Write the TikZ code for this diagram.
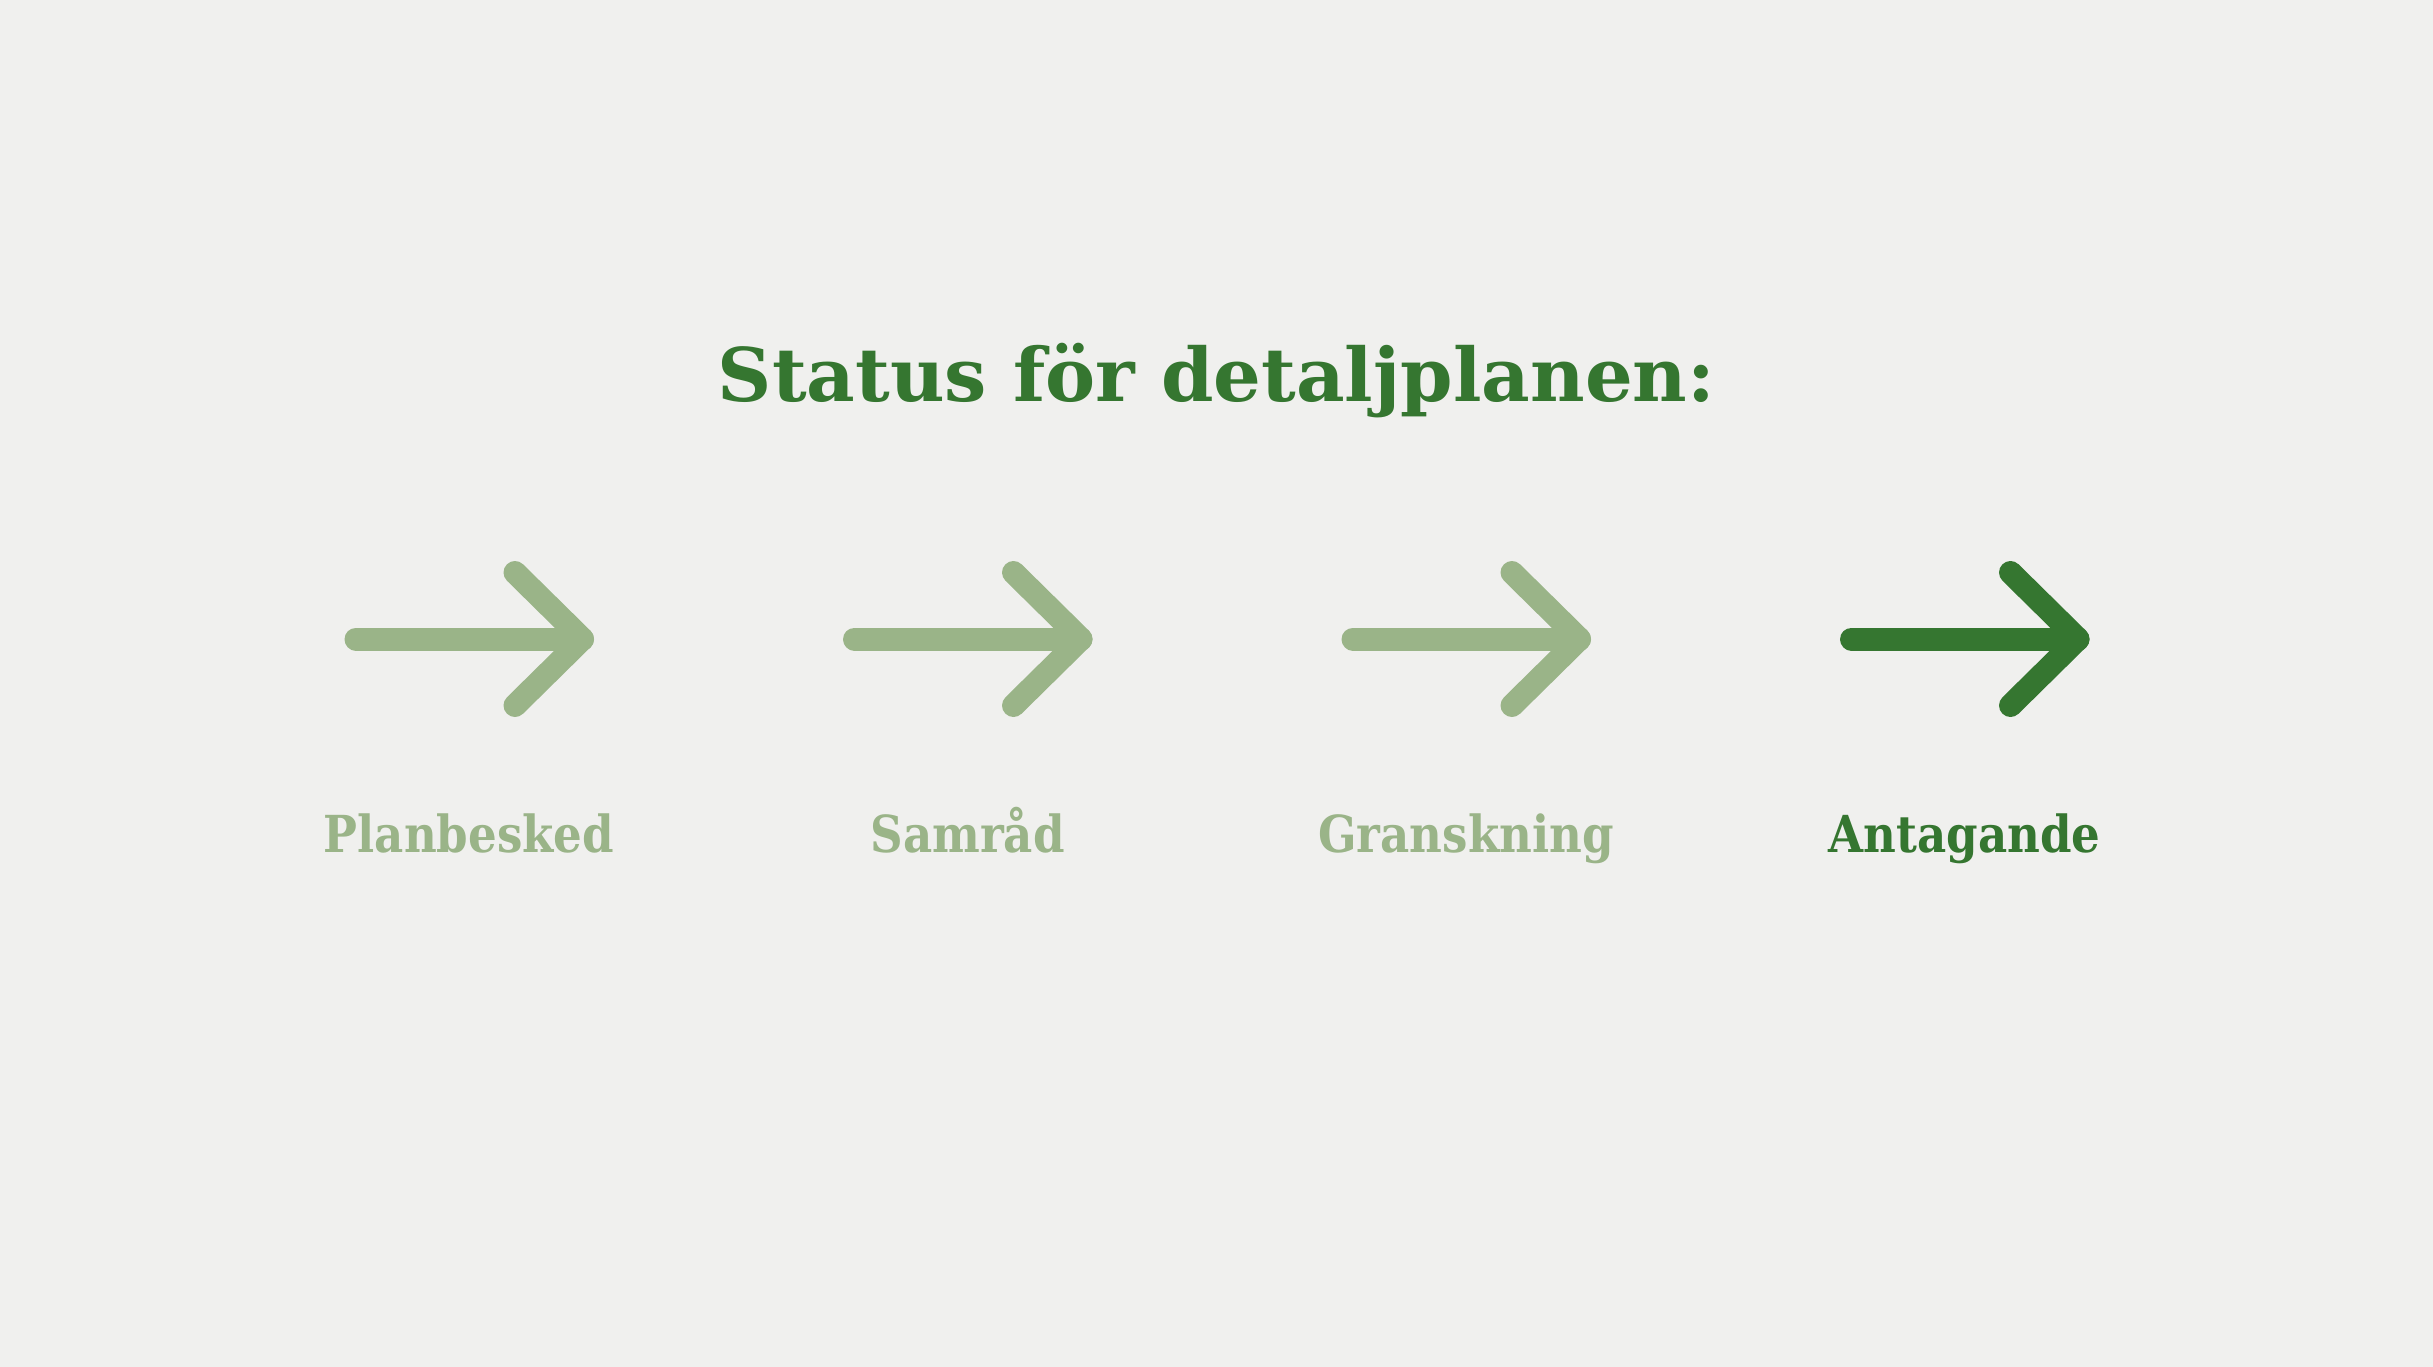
\documentclass[tikz,border=0pt]{standalone}
\usepackage{fontspec}
\setmainfont{DejaVu Serif}
\newfontfamily\stagefont{DejaVu Serif}[FakeStretch=0.885]
\newfontfamily\headfont{DejaVu Serif}[FakeStretch=1.015]
\usetikzlibrary{positioning}
\definecolor{bgpaper}{HTML}{F0F0EE}
\definecolor{darkgreen}{HTML}{357630}
\definecolor{palegreen}{HTML}{9AB488}
\tikzset{
    icon/.style={line width=23pt, line cap=round, line join=round},
    donestep/.style={icon, draw=palegreen},
    currentstep/.style={icon, draw=darkgreen},
    stagename/.style={font=\stagefont\fontsize{51}{60}\selectfont\bfseries, anchor=base},
    heading/.style={font=\headfont\fontsize{74}{88}\selectfont\bfseries, text=darkgreen, anchor=base}
}
\begin{document}
\begin{tikzpicture}[x=1pt, y=-1pt]
            \fill[bgpaper] (0,0) rectangle (2433,1367);
            \useasboundingbox (0,0) rectangle (2433,1367);

            \node[heading] (title) at (1216.5,401) {Status för detaljplanen:};

            % the four stages
            \node[stagename, text=palegreen] (planbesked) at (469,852) {Planbesked};
            \node[stagename, text=palegreen] (samrad) at (967.5,852) {Samråd};
            \node[stagename, text=palegreen] (granskning) at (1466,852) {Granskning};
            \node[stagename, text=darkgreen] (antagande) at (1964.5,852) {Antagande};

            % arrows above the stages
            \draw[donestep] (356,639) -- (582.5,639);
            \draw[donestep] (515,572.5) -- (582.5,639) -- (515,705.5);
            \draw[donestep] (854.5,639) -- (1081,639);
            \draw[donestep] (1013.5,572.5) -- (1081,639) -- (1013.5,705.5);
            \draw[donestep] (1353,639) -- (1579.5,639);
            \draw[donestep] (1512,572.5) -- (1579.5,639) -- (1512,705.5);
            \draw[currentstep] (1851.5,639) -- (2078,639);
            \draw[currentstep] (2010.5,572.5) -- (2078,639) -- (2010.5,705.5);
        \end{tikzpicture}
\end{document}
